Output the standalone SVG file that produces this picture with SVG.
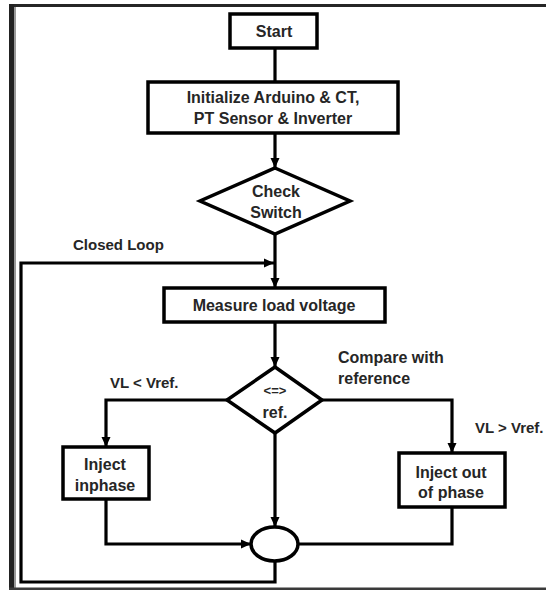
<svg xmlns="http://www.w3.org/2000/svg" width="546" height="590" viewBox="0 0 546 590">
<style>
.box{fill:#fff;stroke:#000;stroke-width:3.5}
.ln{fill:none;stroke:#000;stroke-width:3.2}
.t{font-family:"Liberation Sans",Arial,sans-serif;font-weight:bold;font-size:16px;fill:#262626;text-anchor:middle;dominant-baseline:central}
.lb{font-family:"Liberation Sans",Arial,sans-serif;font-weight:bold;font-size:15px;fill:#262626;dominant-baseline:central}
</style>
<defs>
<marker id="ah" markerUnits="userSpaceOnUse" markerWidth="10" markerHeight="10" viewBox="0 0 10 10" refX="10" refY="5" orient="auto">
<path d="M0,0.5 L10,5 L0,9.5 Z" fill="#000"/>
</marker>
</defs>
<rect width="546" height="590" fill="#fff"/>
<g id="frame">
<rect x="9" y="4" width="537" height="3" fill="#262626"/>
<rect x="9" y="4" width="5" height="586" fill="#222"/>
<rect x="14" y="7" width="2" height="583" fill="#9a9a9a"/>
<rect x="9" y="587.5" width="537" height="2.5" fill="#3a3a3a"/>
</g>
<g id="connectors">
<line class="ln" x1="275" y1="48" x2="275" y2="82"/>
<line class="ln" x1="275" y1="133" x2="275" y2="168" marker-end="url(#ah)"/>
<line class="ln" x1="275" y1="234" x2="275" y2="288" marker-end="url(#ah)"/>
<line class="ln" x1="275" y1="322" x2="275" y2="367" marker-end="url(#ah)"/>
<polyline class="ln" points="227,400 106,400 106,447" marker-end="url(#ah)"/>
<polyline class="ln" points="322,400 452,400 452,453" marker-end="url(#ah)"/>
<line class="ln" x1="275" y1="433" x2="275" y2="527" marker-end="url(#ah)"/>
<polyline class="ln" points="106,499 106,544 251,544" marker-end="url(#ah)"/>
<polyline class="ln" points="452,507 452,544 298,544"/>
<polyline class="ln" points="275,561 275,582 21,582 21,263 274,263" marker-end="url(#ah)"/>
</g>
<g id="start">
<rect class="box" x="230" y="14" width="87" height="34"/>
<text class="t" x="274" y="31">Start</text>
</g>
<g id="init">
<rect class="box" x="148" y="82" width="250" height="51"/>
<text class="t" x="273" y="97">Initialize Arduino &amp; CT,</text>
<text class="t" x="273" y="118">PT Sensor &amp; Inverter</text>
</g>
<g id="check">
<polygon class="box" points="275,168 350,201 275,234 200,201"/>
<text class="t" x="276" y="191">Check</text>
<text class="t" x="276" y="212">Switch</text>
</g>
<g id="closed-loop-label">
<text class="lb" x="73" y="244">Closed Loop</text>
</g>
<g id="measure">
<rect class="box" x="164" y="288" width="221" height="34"/>
<text class="t" x="274" y="305">Measure load voltage</text>
</g>
<g id="compare">
<polygon class="box" points="275,367 322,400 275,433 227,400"/>
<text class="t" x="275" y="390" style="font-size:13px">&lt;=&gt;</text>
<text class="t" x="275" y="412">ref.</text>
</g>
<g id="compare-label">
<text class="lb" x="338" y="357" style="font-size:16px">Compare with</text>
<text class="lb" x="338" y="378" style="font-size:16px">reference</text>
</g>
<g id="lt-label">
<text class="lb" x="110" y="382">VL &lt; Vref.</text>
</g>
<g id="gt-label">
<text class="lb" x="475" y="427">VL &gt; Vref.</text>
</g>
<g id="inphase">
<rect class="box" x="63" y="447" width="86" height="52"/>
<text class="t" x="105" y="464">Inject</text>
<text class="t" x="105" y="485">inphase</text>
</g>
<g id="outphase">
<rect class="box" x="399" y="453" width="106" height="54"/>
<text class="t" x="451" y="472">Inject out</text>
<text class="t" x="451" y="492">of phase</text>
</g>
<g id="junction">
<ellipse class="box" cx="274.5" cy="544" rx="23.5" ry="17"/>
</g>
</svg>
